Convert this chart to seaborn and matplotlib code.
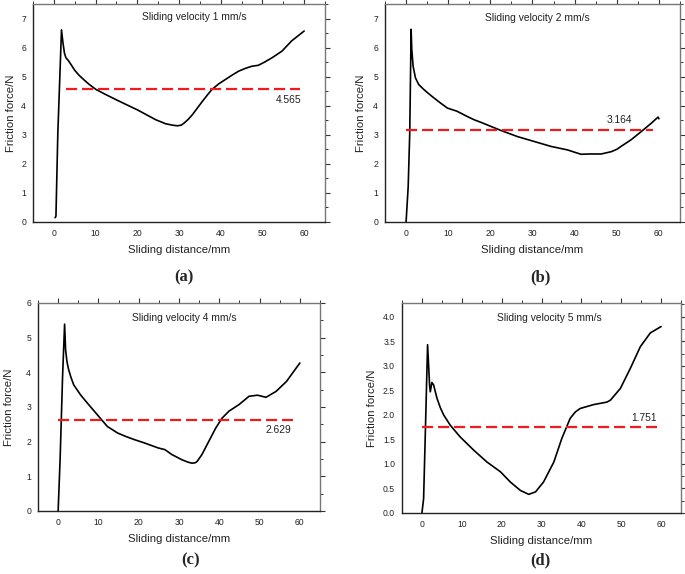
import numpy as np
import pandas as pd
import matplotlib
matplotlib.use("Agg")
import matplotlib.pyplot as plt
import seaborn as sns
from matplotlib.ticker import MultipleLocator

sns.set_theme(style="white")
plt.rcParams['font.family'] = ['Liberation Sans', 'DejaVu Sans']

# ---- data ----
d_a = [0.3, 0.5, 0.95, 1.83, 2.15, 2.55, 2.9, 3.5, 4.1, 5, 6.1, 7.3, 8.5, 10.1, 12.5, 14.9, 17.5, 20,
       22.2, 24.4, 26.8, 28.5, 29.6, 30.5, 31.2, 32.2, 33.2, 34.4, 35.6, 36.8, 37.9, 39.5, 41.1,
       42.7, 44.3, 46, 47.5, 49, 50.5, 52.3, 54.7, 57, 60]
f_a = [0.15, 0.2, 3.05, 6.61, 6.2, 5.8, 5.65, 5.55, 5.42, 5.22, 5.04, 4.88, 4.73, 4.56, 4.38, 4.21,
       4.03, 3.86, 3.69, 3.52, 3.38, 3.33, 3.31, 3.33, 3.40, 3.53, 3.69, 3.92, 4.15, 4.37, 4.56,
       4.75, 4.90, 5.05, 5.19, 5.29, 5.36, 5.39, 5.50, 5.65, 5.88, 6.23, 6.57]

d_b = [0, 0.5, 0.87, 1.2, 1.35, 1.67, 2.22, 3.0, 4.2, 5.4, 6.6, 8.2, 9.8, 12.1, 14.1, 16.1, 18.1, 20.1,
       22.5, 26.4, 30.4, 34.4, 38.3, 41.5, 43.5, 46.3, 48.7, 50, 51, 53.4, 55.8, 58.2, 59.8, 60]
f_b = [0, 1.21, 3.06, 6.63, 5.94, 5.36, 4.96, 4.73, 4.56, 4.41, 4.27, 4.09, 3.92, 3.81, 3.66, 3.52,
       3.41, 3.29, 3.15, 2.94, 2.77, 2.6, 2.48, 2.33, 2.34, 2.34, 2.42, 2.5, 2.6, 2.83, 3.11, 3.4,
       3.61, 3.55]

d_c = [0, 0.5, 1.09, 1.6, 1.85, 2.2, 2.6, 3.2, 3.86, 5.5, 7.2, 9.7, 12.2, 14.75, 16.8, 18.9, 21.5,
       24.8, 26.5, 28.2, 30.7, 32.2, 33.2, 34.0, 34.5, 35.7, 37.4, 39.1, 40.7, 42.4, 44.9, 47.4,
       49.5, 51.6, 54.1, 56.7, 60]
f_c = [0, 1.53, 3.84, 5.39, 4.65, 4.3, 4.08, 3.85, 3.64, 3.36, 3.12, 2.78, 2.44, 2.25, 2.15, 2.06,
       1.96, 1.82, 1.77, 1.63, 1.48, 1.41, 1.38, 1.39, 1.43, 1.63, 2.01, 2.39, 2.68, 2.88, 3.07,
       3.31, 3.34, 3.28, 3.45, 3.74, 4.27]

d_d = [0, 0.42, 0.84, 1.42, 1.92, 2.1, 2.5, 2.93, 3.77, 4.6, 5.44, 7.1, 9.6, 13, 16.3, 19.7, 22.2,
       24.7, 26.8, 28.5, 30.5, 33.1, 35.1, 37.2, 38.5, 39.7, 43.1, 46.4, 47.3, 49.8, 52.3, 54.8,
       57.3, 60]
f_d = [0, 0.29, 1.59, 3.43, 2.61, 2.47, 2.66, 2.61, 2.34, 2.15, 2.0, 1.79, 1.55, 1.28, 1.04, 0.84,
       0.63, 0.46, 0.38, 0.43, 0.63, 1.04, 1.52, 1.93, 2.06, 2.13, 2.21, 2.26, 2.30, 2.54, 2.95,
       3.39, 3.67, 3.80]

titles = ["Sliding velocity 1 mm/s", "Sliding velocity 2 mm/s",
          "Sliding velocity 4 mm/s", "Sliding velocity 5 mm/s"]
means = [4.565, 3.164, 2.629, 1.751]
mean_labels = ["4.565", "3.164", "2.629", "1.751"]
mean_start = [2.8, 0, 0, 0]
mean_end = [59, 58.6, 59, 59.8]
panel_labels = ["(a)", "(b)", "(c)", "(d)"]
ylims = [7.5, 7.5, 6.0, 4.28]
ymajor = [1, 1, 1, 0.5]

series = [(d_a, f_a), (d_b, f_b), (d_c, f_c), (d_d, f_d)]

# ---- layout ----
W, H = 685, 574
fig = plt.figure(figsize=(W / 100, H / 100), dpi=100)
boxes = [(33, 4, 325, 222), (385, 4, 680, 222), (38, 303, 320, 511), (402, 303, 681, 513)]
title_pos = [(0.552, 0.94), (0.518, 0.936), (0.519, 0.928), (0.529, 0.928)]
mlabel_pos = [(56.2, 4.21), (50.6, 3.52), (54.6, 2.35), (55.8, 1.94)]
plabel_pos = [(184, 277), (540, 277), (191, 560), (540, 560)]
ylabelpads = [4, 5, 9, 4]

for i, (x0, y0, x1, y1) in enumerate(boxes):
    ax = fig.add_axes([x0 / W, 1 - y1 / H, (x1 - x0) / W, (y1 - y0) / H])
    d, f = series[i]
    df = pd.DataFrame({"d": d, "f": f})
    sns.lineplot(data=df, x="d", y="f", ax=ax, color="black", lw=1.2,
                 sort=False, estimator=None)
    ax.plot([mean_start[i], mean_end[i]], [means[i], means[i]], color="#ee1c1c",
            lw=1.6, dashes=(5, 2.2))
    ax.set_xlim(-5, 65)
    ax.set_ylim(0, ylims[i])
    ax.xaxis.set_major_locator(MultipleLocator(10))
    ax.xaxis.set_minor_locator(MultipleLocator(5))
    ax.yaxis.set_major_locator(MultipleLocator(ymajor[i]))
    ax.yaxis.set_minor_locator(MultipleLocator(ymajor[i] / 2))
    if i == 3:
        ax.yaxis.set_major_formatter(matplotlib.ticker.FormatStrFormatter("%.1f"))
    ax.tick_params(which="both", direction="out", top=True, right=True,
                   labeltop=False, labelright=False, colors="#333333",
                   labelcolor="#222222", labelsize=6.2)
    ax.tick_params(which="major", length=3.5, width=0.8, pad=1.5)
    ax.tick_params(which="minor", length=2.2, width=0.7)
    for s in ["left", "bottom"]:
        ax.spines[s].set_color("#222222")
        ax.spines[s].set_linewidth(1.0)
    for s in ["top", "right"]:
        ax.spines[s].set_color("#777777")
        ax.spines[s].set_linewidth(1.0)
    ax.set_xlabel("Sliding distance/mm", fontsize=8.2, color="#222222", labelpad=5)
    ax.set_ylabel("Friction force/N", fontsize=8.2, color="#222222", labelpad=ylabelpads[i])
    ax.text(*title_pos[i], titles[i], transform=ax.transAxes, ha="center", va="center",
            fontsize=7.4, color="#222222")
    ax.text(*mlabel_pos[i], mean_labels[i], ha="center", va="center",
            fontsize=7.4, color="#222222")
    fig.text(plabel_pos[i][0] / W, 1 - plabel_pos[i][1] / H, panel_labels[i],
             ha="center", va="center", fontsize=12, fontweight="bold",
             family=["Liberation Serif", "DejaVu Serif"])

fig.savefig("out.png", dpi=100, facecolor="white")
